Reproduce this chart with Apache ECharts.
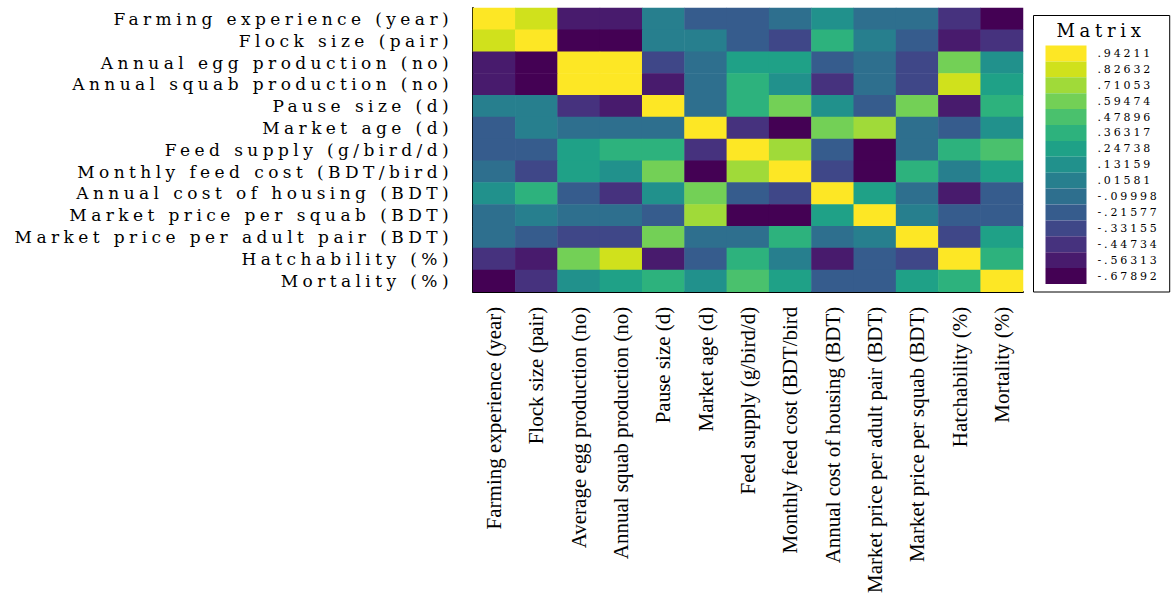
<!DOCTYPE html>
<html>
<head>
<meta charset="utf-8">
<script src="https://cdn.jsdelivr.net/npm/echarts@6/dist/echarts.min.js"></script>
<style>
  html, body { margin: 0; padding: 0; background: #fff; }
  #chart { width: 1173px; height: 596px; }
  #chart text[style*="DejaVu"] { letter-spacing: 0.26em !important; }
</style>
</head>
<body>
<div id="chart"></div>
<script>
// Row (y-axis) labels, top to bottom
const rowLabels = [
  'Farming experience (year)',
  'Flock size (pair)',
  'Annual egg production (no)',
  'Annual squab production (no)',
  'Pause size (d)',
  'Market age (d)',
  'Feed supply (g/bird/d)',
  'Monthly feed cost (BDT/bird)',
  'Annual cost of housing (BDT)',
  'Market price per squab (BDT)',
  'Market price per adult pair (BDT)',
  'Hatchability (%)',
  'Mortality (%)'
];
// Column (x-axis) labels, left to right
const colLabels = [
  'Farming experience (year)',
  'Flock size (pair)',
  'Average egg production (no)',
  'Annual squab production (no)',
  'Pause size (d)',
  'Market age (d)',
  'Feed supply (g/bird/d)',
  'Monthly feed cost (BDT/bird',
  'Annual cost of housing (BDT)',
  'Market price per adult pair (BDT)',
  'Market price per squab (BDT)',
  'Hatchability (%)',
  'Mortality (%)'
];
// Correlation values, one array per row
const rowFarming   = [1.00, 0.83, -0.56, -0.56, 0.02, -0.22, -0.22, -0.10, 0.13, -0.10, -0.10, -0.45, -0.68];
const rowFlock     = [0.83, 1.00, -0.68, -0.68, 0.02, 0.02, -0.22, -0.33, 0.36, 0.02, -0.22, -0.56, -0.45];
const rowEgg       = [-0.56, -0.68, 1.00, 0.94, -0.33, -0.10, 0.25, 0.25, -0.22, -0.10, -0.33, 0.59, 0.13];
const rowSquab     = [-0.56, -0.68, 0.94, 1.00, -0.56, -0.10, 0.36, 0.13, -0.45, -0.10, -0.33, 0.83, 0.25];
const rowPause     = [0.02, 0.02, -0.45, -0.56, 1.00, -0.10, 0.36, 0.59, 0.13, -0.22, 0.59, -0.56, 0.36];
const rowMktAge    = [-0.22, 0.02, -0.10, -0.10, -0.10, 1.00, -0.45, -0.68, 0.59, 0.71, -0.10, -0.22, 0.13];
const rowFeed      = [-0.22, -0.22, 0.25, 0.36, 0.36, -0.45, 1.00, 0.71, -0.22, -0.68, -0.10, 0.36, 0.48];
const rowFeedCost  = [-0.10, -0.33, 0.25, 0.13, 0.59, -0.68, 0.71, 1.00, -0.33, -0.68, 0.36, 0.02, 0.25];
const rowHousing   = [0.13, 0.36, -0.22, -0.45, 0.13, 0.59, -0.22, -0.33, 1.00, 0.25, -0.10, -0.56, -0.22];
const rowPriceSq   = [-0.10, 0.02, -0.10, -0.10, -0.22, 0.71, -0.68, -0.68, 0.25, 1.00, 0.02, -0.22, -0.22];
const rowPriceAd   = [-0.10, -0.22, -0.33, -0.33, 0.59, -0.10, -0.10, 0.36, -0.10, 0.02, 1.00, -0.33, 0.25];
const rowHatch     = [-0.45, -0.56, 0.59, 0.83, -0.56, -0.22, 0.36, 0.02, -0.56, -0.22, -0.33, 1.00, 0.36];
const rowMortality = [-0.68, -0.45, 0.13, 0.25, 0.36, 0.13, 0.48, 0.25, -0.22, -0.22, 0.25, 0.36, 1.00];

// Legend labels (bottom to top) and colours
const legendLabels = ['-.67892', '-.56313', '-.44734', '-.33155', '-.21577', '-.09998', '.01581',
                      '.13159', '.24738', '.36317', '.47896', '.59474', '.71053', '.82632', '.94211'];
const legendColors = ['#440154', '#481b6d', '#46327e', '#3f4788', '#365c8d', '#2e6f8e', '#277f8e',
                      '#21918c', '#1fa187', '#2db27d', '#4ac16d', '#73d056', '#a0da39', '#d0e11c', '#fde725'];

const rows = [rowFarming, rowFlock, rowEgg, rowSquab, rowPause, rowMktAge, rowFeed,
              rowFeedCost, rowHousing, rowPriceSq, rowPriceAd, rowHatch, rowMortality];
const data = [];
rows.forEach((row, r) => row.forEach((v, c) => data.push([c, r, v])));

const half = 0.11579 / 2;
const pieces = legendLabels.map((lab, i) => {
  const v = parseFloat(lab);
  const p = { label: lab, color: legendColors[i] };
  if (i > 0) p.gte = v - half;
  if (i < legendLabels.length - 1) p.lt = v + half;
  return p;
});

const chart = echarts.init(document.getElementById('chart'), null, { renderer: 'svg' });
chart.setOption({
  backgroundColor: '#fff',
  animation: false,
  grid: { left: 473, top: 8, width: 550, height: 294 },
  xAxis: {
    type: 'category',
    data: colLabels,
    position: 'bottom',
    axisLine: { lineStyle: { color: '#000', width: 2 } },
    axisTick: { alignWithLabel: true, length: 8, lineStyle: { color: '#000', width: 1.5 } },
    axisLabel: { rotate: 90, margin: 15, color: '#000', fontFamily: 'Liberation Serif', fontSize: 21, interval: 0 },
    splitLine: { show: false }
  },
  yAxis: {
    type: 'category',
    data: rowLabels,
    inverse: true,
    axisLine: { lineStyle: { color: '#000', width: 2 } },
    axisTick: { alignWithLabel: true, length: 11, lineStyle: { color: '#000', width: 1.5 } },
    axisLabel: { margin: 20, color: '#000', fontFamily: 'DejaVu Serif', fontSize: 17, interval: 0 },
    splitLine: { show: false }
  },
  visualMap: {
    type: 'piecewise',
    pieces: pieces,
    orient: 'vertical',
    align: 'left',
    left: 1033,
    top: 15,
    padding: [30, 30, 8, 12],
    itemWidth: 41,
    itemHeight: 15.9,
    itemGap: 0,
    itemSymbol: 'rect',
    textGap: 11,
    borderColor: '#000',
    borderWidth: 1,
    selectedMode: false,
    hoverLink: false,
    textStyle: { color: '#000', fontFamily: 'DejaVu Serif', fontSize: 11 }
  },
  graphic: [{
    type: 'text',
    x: 1101,
    y: 30,
    style: { text: 'Matrix', fill: '#000', font: '18px "DejaVu Serif"', textAlign: 'center', textVerticalAlign: 'middle' }
  }],
  series: [{
    type: 'heatmap',
    data: data,
    itemStyle: { borderWidth: 0 },
    emphasis: { disabled: true }
  }]
});
</script>
</body>
</html>
